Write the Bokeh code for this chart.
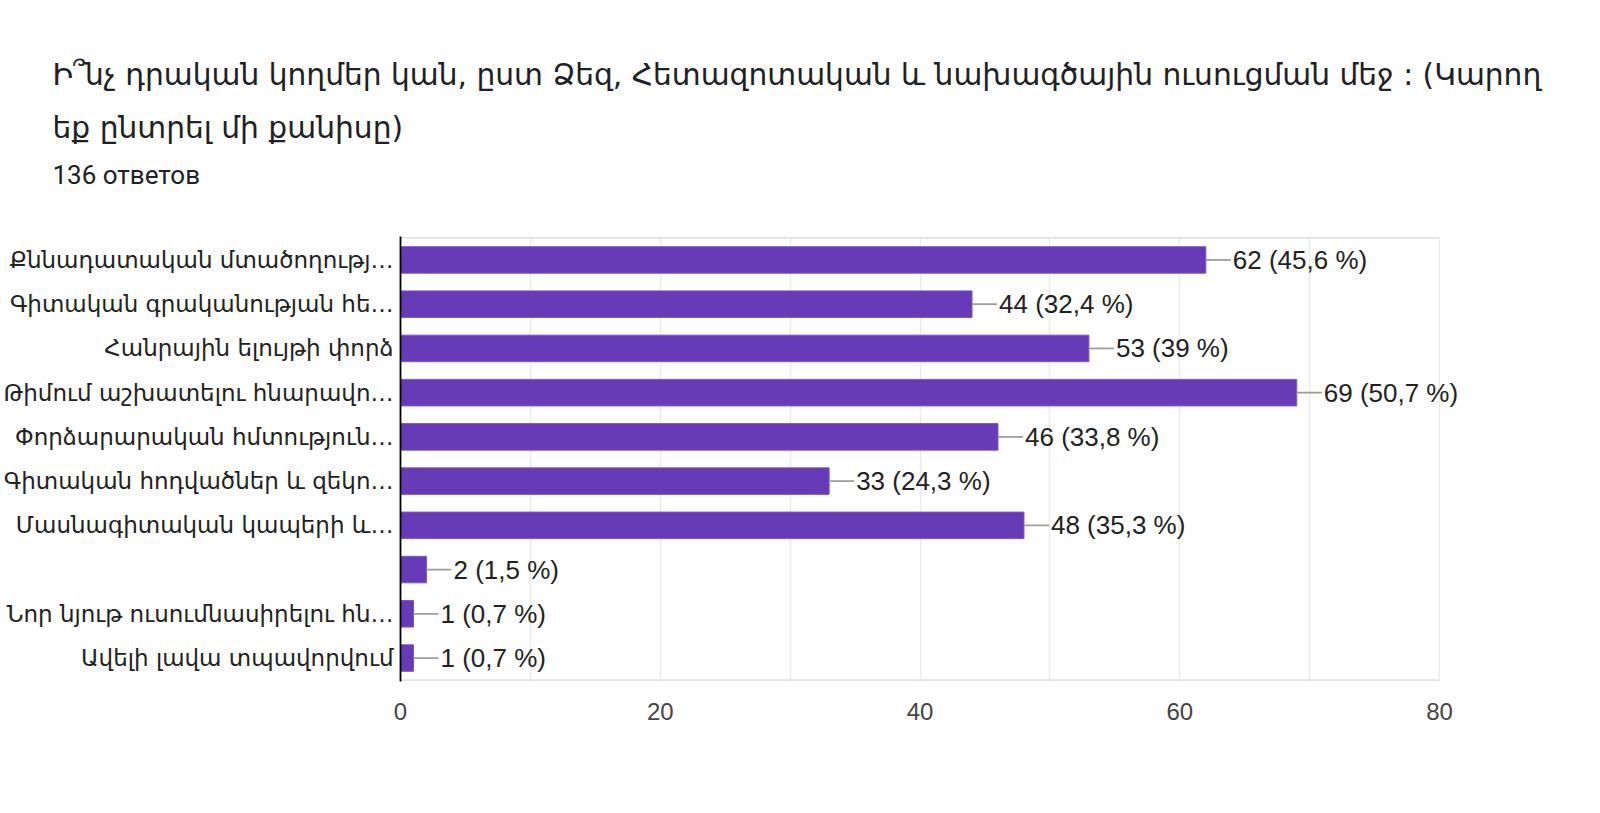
from bokeh.plotting import figure
from bokeh.models import Range1d, FixedTicker, Title
from bokeh.embed import file_html
from bokeh.resources import INLINE
from bokeh.core.properties import value

# ---- data ----
categories = [
    "Քննադատական մտածողությ…",
    "Գիտական գրականության հե…",
    "Հանրային ելույթի փորձ",
    "Թիմում աշխատելու հնարավո…",
    "Փորձարարական հմտություն…",
    "Գիտական հոդվածներ և զեկո…",
    "Մասնագիտական կապերի և…",
    "",
    "Նոր նյութ ուսումնասիրելու հն…",
    "Ավելի լավա տպավորվում",
]
counts = [62, 44, 53, 69, 46, 33, 48, 2, 1, 1]
value_labels = [
    "62 (45,6 %)", "44 (32,4 %)", "53 (39 %)", "69 (50,7 %)", "46 (33,8 %)",
    "33 (24,3 %)", "48 (35,3 %)", "2 (1,5 %)", "1 (0,7 %)", "1 (0,7 %)",
]
x_max = 80
x_ticks = [0, 20, 40, 60, 80]
grid_ticks = [10, 20, 30, 40, 50, 60, 70, 80]
title_line1 = "Ի՞նչ դրական կողմեր կան, ըստ Ձեզ, Հետազոտական և նախագծային ուսուցման մեջ : (Կարող"
title_line2 = "եք ընտրել մի քանիսը)"
subtitle = "136 ответов"

ys = list(range(len(categories)))
n = len(categories)

# ---- layout (pixels) ----
W, H = 1600, 813
FL, FR_VIS, FT, FB = 399, 1439, 236, 681   # visible plot box
FR = 1585                                   # frame extends right so labels are not clipped
x_end = x_max * (FR - FL) / (FR_VIS - FL)
pad = 0.03                                  # small padding so box border lines are not clipped

p = figure(width=W, height=H, output_backend="svg", toolbar_location=None,
           title=None,
           x_range=Range1d(0, x_end), y_range=Range1d(n - 0.5 + pad, -0.5 - pad),
           min_border_left=FL, min_border_right=W - FR,
           min_border_top=FT, min_border_bottom=H - FB)
p.background_fill_color = "white"
p.border_fill_color = "white"
p.outline_line_color = None

# vertical grid lines (incl. right border at 80)
p.xgrid.ticker = FixedTicker(ticks=grid_ticks)
p.xgrid.grid_line_color = "#ebebeb"
p.xgrid.grid_line_width = 1.5
p.ygrid.visible = False

# top / bottom border of the plot box
p.segment(x0=[0, 0], x1=[x_max, x_max], y0=[-0.5, n - 0.5], y1=[-0.5, n - 0.5],
          line_color="#e3e3e3", line_width=1.8)

# x axis
p.xaxis.ticker = FixedTicker(ticks=x_ticks)
p.xaxis.axis_line_color = None
p.xaxis.major_tick_line_color = None
p.xaxis.minor_tick_line_color = None
p.xaxis.major_label_standoff = 15
p.xaxis.major_label_text_font = "Liberation Sans"
p.xaxis.major_label_text_font_size = "24px"
p.xaxis.major_label_text_color = "#444444"

# y axis
p.yaxis.ticker = FixedTicker(ticks=ys)
p.yaxis.major_label_overrides = {i: c for i, c in enumerate(categories)}
p.yaxis.axis_line_color = "#000000"
p.yaxis.axis_line_width = 1.8
p.yaxis.major_tick_line_color = None
p.yaxis.minor_tick_line_color = None
p.yaxis.major_label_standoff = 1
p.yaxis.major_label_text_font = "DejaVu Sans"
p.yaxis.major_label_text_font_size = "23px"
p.yaxis.major_label_text_color = "#222222"

# bars
p.hbar(y=ys, left=0, right=counts, height=0.6,
       fill_color="#673ab7", line_color="#7e57c2", line_width=1)

# leader lines
p.ray(x=counts, y=ys, length=25, length_units="screen", angle=0,
      line_color="#9e9e9e", line_width=1.8)

# value labels
p.text(x=counts, y=ys, text=value_labels, x_offset=27,
       text_baseline="middle", text_align="left",
       text_font=value("Liberation Sans"), text_font_size="26px",
       text_color="#222222")

# titles stacked above the frame (first added = closest to the frame)
def add_title(text, font, size, standoff):
    p.add_layout(Title(text=text, text_font=font, text_font_size=size,
                       text_font_style="normal", text_color="#202124",
                       align="left", offset=51 - FL, standoff=standoff), "above")

add_title(" ", "Roboto", "10px", 29)          # spacer between subtitle and plot
add_title(subtitle, "Roboto", "26px", 10)
add_title(title_line2, "DejaVu Sans", "29.7px", 15)
add_title(title_line1, "DejaVu Sans", "29.7px", 18)

open("out.html", "w").write(file_html(p, INLINE))
